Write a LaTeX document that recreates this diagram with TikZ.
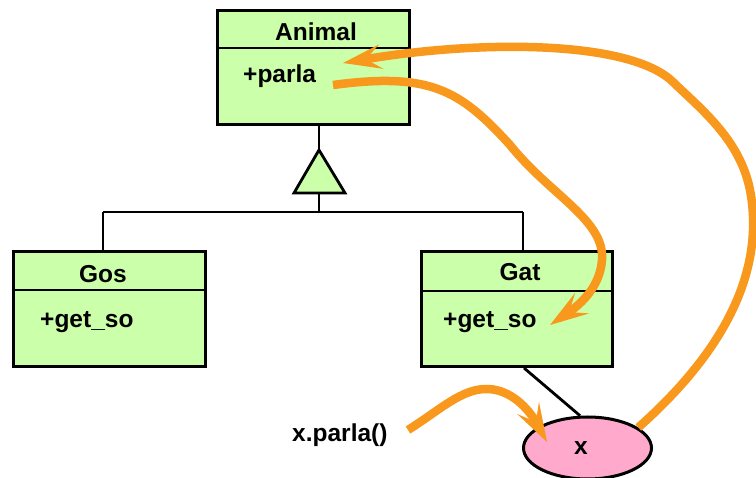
\documentclass[tikz,border=0pt]{standalone}
\usepackage{fontspec}
\setmainfont{Liberation Sans}
\usetikzlibrary{arrows.meta,calc,shapes.geometric}
\definecolor{boxgreen}{RGB}{204,255,170}
\definecolor{objpink}{RGB}{255,170,204}
\definecolor{flow}{RGB}{248,152,28}
\tikzset{
  umlbox/.style={draw=black, line width=3pt, fill=boxgreen, rectangle, inner sep=0pt},
  umlline/.style={draw=black, line width=2.8pt},
  lbl/.style={font=\bfseries\fontsize{24.5}{28}\selectfont, inner sep=0pt},
  flowarrow/.style={draw=flow, line width=8.5pt, -{Stealth[length=39pt,width=25pt,inset=16pt,line width=0pt]}},
}
\begin{document}
\begin{tikzpicture}[x=1pt,y=-1pt]
\useasboundingbox (0,0) rectangle (756,478);
% boxes
\node[umlbox, minimum width=192pt, minimum height=114pt] (animal) at (313,67.5) {};
\node[umlbox, minimum width=192pt, minimum height=115pt] (gos) at (109.5,309) {};
\node[umlbox, minimum width=191pt, minimum height=115pt] (gat) at (517,309) {};
\draw[umlline] (animal.west |- 0,48) coordinate (ad1) -- (animal.east |- 0,48) coordinate (ad2);
\draw[umlline] (gos.west |- 0,290) coordinate (gd1) -- (gos.east |- 0,290) coordinate (gd2);
\draw[umlline] (gat.west |- 0,291) coordinate (td1) -- (gat.east |- 0,291) coordinate (td2);
% texts
\node[lbl, anchor=base] (tanimal) at (316,40.5) {Animal};
\node[lbl, anchor=base west] (tparla) at (243,83) {+parla};
\node[lbl, anchor=base] (tgos) at (103,283) {Gos};
\node[lbl, anchor=base west] (tgos2) at (40,328) {+get\_so};
\node[lbl, anchor=base] (tgat) at (520,281) {Gat};
\node[lbl, anchor=base west] (tgat2) at (443,328) {+get\_so};
\node[lbl, anchor=base west] (call) at (292,442) {x.parla()};
% object
\node[draw=black, line width=3pt, fill=objpink, ellipse, minimum width=128pt, minimum height=62pt, inner sep=0pt] (x) at (587.5,448) {};
\node[lbl, anchor=base] (tx) at (581,455) {x};
% inheritance
\coordinate (apex) at (319,150);
\coordinate (tbase) at (319,193);
\coordinate (hleft) at (103,212);
\coordinate (hright) at (523,212);
\coordinate (hmid) at (319,212);
\draw[umlline] (animal.south -| apex) -- (apex);
\draw[umlline, fill=boxgreen, line join=miter] (apex) -- (294,193) -- (345,193) -- cycle;
\draw[umlline] (tbase) -- (hmid);
\draw[umlline] (hleft) -- (hright);
\draw[umlline] (hleft) -- (gos.north -| hleft);
\draw[umlline] (hright) -- (gat.north -| hright);
\draw[umlline] ($(gat.south)+(7,0)$) -- (x.103);
% flow arrows
\coordinate (xin) at (547,442);
\coordinate (callend) at (408,430);
\coordinate (parlain) at (343,63);
\coordinate (parlaout) at (333,85);
\coordinate (getin) at (550,325);
\coordinate (b1) at (750,190);
\coordinate (b2) at (673,82);
\coordinate (c1) at (510,145);
\coordinate (c2) at (602,260);
\coordinate (a1) at (488,389);
\draw[flowarrow] (callend) .. controls (440,410) and (462,388) .. (a1) .. controls (515,390) and (532,415) .. (xin);
\draw[flowarrow] (x.22) .. controls (720,355) and (766,275) .. (b1) .. controls (740,140) and (702,110) .. (b2) .. controls (630,40) and (480,40) .. (parlain);
\draw[flowarrow] (parlaout) .. controls (430,72) and (460,90) .. (c1) .. controls (550,195) and (605,220) .. (c2) .. controls (600,290) and (575,308) .. (getin);
\end{tikzpicture}
\end{document}
